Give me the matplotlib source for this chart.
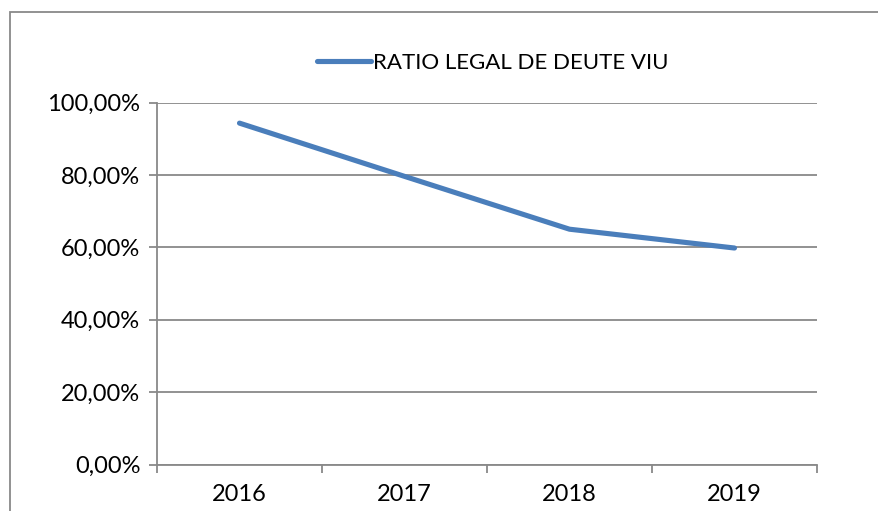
import matplotlib.pyplot as plt
from matplotlib.patches import Rectangle
from matplotlib.ticker import FixedLocator

years = ["2016", "2017", "2018", "2019"]
ratio = [94.3, 79.6, 65.0, 59.8]
y_ticks = [0, 20, 40, 60, 80, 100]
y_labels = ["0,00%", "20,00%", "40,00%", "60,00%", "80,00%", "100,00%"]
series_name = "RATIO LEGAL DE DEUTE VIU"

plt.rcParams['font.family'] = ['Lato', 'DejaVu Sans']
grey = '#898989'
blue = '#4A7EBB'

fig = plt.figure(figsize=(8.79, 5.11), dpi=100)
fig.patches.append(Rectangle((10 / 879, -0.1), 1.2, 1 - 12 / 511 + 0.1,
                             transform=fig.transFigure, fill=False,
                             edgecolor=grey, linewidth=1.3))

ax = fig.add_axes([157 / 879, 1 - 464.5 / 511, 660 / 879, 362 / 511])
x = list(range(len(years)))
ax.plot(x, ratio, color=blue, linewidth=3.7, solid_capstyle='round',
        solid_joinstyle='round', label=series_name)

ax.set_xlim(-0.5, len(years) - 0.5)
ax.set_ylim(0, 100)
ax.set_yticks(y_ticks)
ax.set_yticklabels(y_labels)
ax.yaxis.grid(True, color=grey, linewidth=1.3)
ax.set_axisbelow(True)

ax.set_xticks(x)
ax.set_xticklabels(years)
ax.xaxis.set_minor_locator(FixedLocator([i - 0.5 for i in range(len(years) + 1)]))
ax.tick_params(axis='x', which='major', length=0, pad=14, labelsize=17)
ax.tick_params(axis='x', which='minor', length=6, width=1.3, color=grey, direction='out')
ax.tick_params(axis='y', length=6, width=1.3, color=grey, pad=6, labelsize=17)

for s in ['top', 'right']:
    ax.spines[s].set_visible(False)
for s in ['left', 'bottom']:
    ax.spines[s].set_color(grey)
    ax.spines[s].set_linewidth(1.3)

ax.legend(loc='center', bbox_to_anchor=(0.509, 1.11), frameon=False,
          fontsize=16, handlelength=2.4, handletextpad=0.1)

fig.savefig('out.png', dpi=100)
